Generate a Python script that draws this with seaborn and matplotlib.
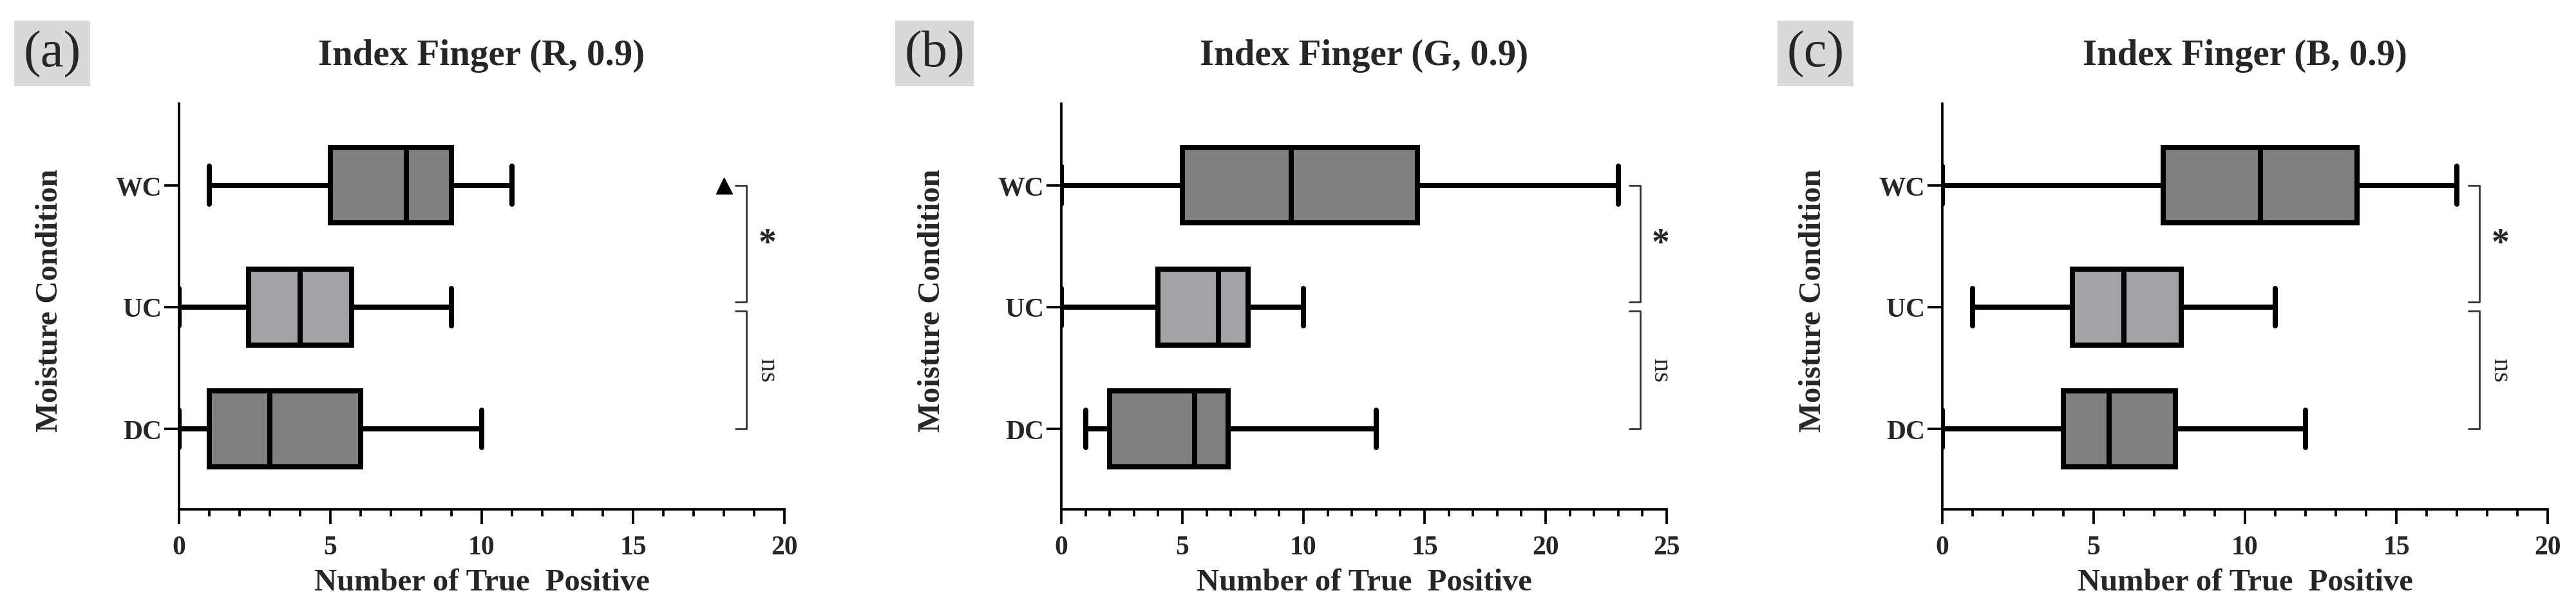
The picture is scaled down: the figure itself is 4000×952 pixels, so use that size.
import pandas as pd
import matplotlib
matplotlib.use("Agg")
import matplotlib.pyplot as plt
from matplotlib.ticker import MultipleLocator
import seaborn as sns

sns.set_style("ticks")
plt.rcParams["font.family"] = ["Liberation Serif", "DejaVu Serif"]
plt.rcParams["font.weight"] = "bold"
plt.rcParams["axes.titleweight"] = "bold"
plt.rcParams["axes.labelweight"] = "bold"


conditions = ["WC", "UC", "DC"]
titles = ["Index Finger (R, 0.9)", "Index Finger (G, 0.9)", "Index Finger (B, 0.9)"]
panel_tags = ["(a)", "(b)", "(c)"]
x_max = [20, 25, 20]

# five-number summaries (WC, UC, DC)
r_min = [1, 0, 0]
r_q1 = [5, 2.3, 1]
r_med = [7.5, 4, 3]
r_q3 = [9, 5.7, 6]
r_max = [11, 9, 10]
r_outlier = [18]  # WC

g_min = [0, 0, 1]
g_q1 = [5, 4, 2]
g_med = [9.5, 6.5, 5.5]
g_q3 = [14.7, 7.7, 6.9]
g_max = [23, 10, 13]

b_min = [0, 1, 0]
b_q1 = [7.3, 4.3, 4]
b_med = [10.5, 6, 5.5]
b_q3 = [13.7, 7.9, 7.7]
b_max = [17, 11, 12]

sig_labels = ["*", "ns"]
bracket_x = [18.75, 23.9, 17.75]

fill = {"WC": "#808080", "UC": "#a3a3a7", "DC": "#808080"}


def make_frame(mins, q1s, meds, q3s, maxs):
    """Long table; with 5 points the linear quartiles are exactly q1/med/q3."""
    rows = []
    for i, c in enumerate(conditions):
        for v in (mins[i], q1s[i], meds[i], q3s[i], maxs[i]):
            rows.append({"condition": c, "value": v})
    return pd.DataFrame(rows)


frames = [
    make_frame(r_min, r_q1, r_med, r_q3, r_max),
    make_frame(g_min, g_q1, g_med, g_q3, g_max),
    make_frame(b_min, b_q1, b_med, b_q3, b_max),
]

W, H = 4000, 953
fig = plt.figure(figsize=(W / 100, H / 100), dpi=100)
lefts = [278, 1648, 3016]

for k, df in enumerate(frames):
    ax = fig.add_axes([lefts[k] / W, 161 / H, 940 / W, 630 / H])
    sns.boxplot(
        data=df, x="value", y="condition", order=conditions,
        hue="condition", hue_order=conditions, palette=fill, saturation=1,
        width=0.62, whis=(0, 100), linewidth=5.8, linecolor="black",
        fliersize=0, legend=False, ax=ax
    )
    xm = x_max[k]
    ax.set_xlim(0, xm)
    ax.set_ylim(2.66, -0.67)
    major = list(range(0, xm + 1, 5))
    ax.set_xticks(major)
    ax.set_xticklabels([str(v) for v in major], fontweight="bold")
    ax.set_yticks(range(len(conditions)))
    ax.set_yticklabels(conditions, fontweight="bold")
    ax.xaxis.set_minor_locator(MultipleLocator(1))
    ax.tick_params(which="major", length=16.5, width=2.7, labelsize=30, color="black")
    ax.tick_params(which="minor", axis="x", length=8, width=2.7, color="black")
    ax.tick_params(axis="x", which="major", pad=12)
    ax.tick_params(axis="y", pad=3)
    sns.despine(ax=ax)
    for s in ("left", "bottom"):
        ax.spines[s].set_linewidth(2.7)
        ax.spines[s].set_color("black")

    ax.set_xlabel("Number of True  Positive", fontsize=35, fontweight="bold")
    ax.xaxis.set_label_coords(0.5, -0.145)
    ax.set_ylabel("Moisture Condition", fontsize=35, fontweight="bold")
    ax.yaxis.set_label_coords(-0.19, 0.516)
    ax.set_title(titles[k], fontsize=41, fontweight="bold", pad=44)

    # significance brackets
    bx = bracket_x[k]
    t = 0.018 * xm
    for (y0, y1), lab in zip([(0, 0.96), (1.03, 2)], sig_labels):
        ax.plot([bx - t, bx, bx, bx - t], [y0, y0, y1, y1],
                color="#333333", lw=2, clip_on=False)
        if lab == "*":
            ax.text(bx + 0.034 * xm, (y0 + y1) / 2, lab, fontsize=40,
                    fontweight="bold", ha="center", va="center")
        else:
            ax.text(bx + 0.034 * xm, (y0 + y1) / 2, lab, fontsize=30,
                    fontweight="normal", rotation=-90, ha="center", va="center")

    if k == 0:
        ax.plot(r_outlier, [0] * len(r_outlier), marker="^", ms=18,
                color="black", linestyle="none", clip_on=False)

    fig.text((lefts[k] - 197) / W, 1 - 84 / H, panel_tags[k], fontsize=58,
             fontweight="normal", ha="center", va="center",
             bbox=dict(boxstyle="square,pad=0.18", fc="#d9d9d9", ec="none"))

fig.savefig("out.png", dpi=100)
